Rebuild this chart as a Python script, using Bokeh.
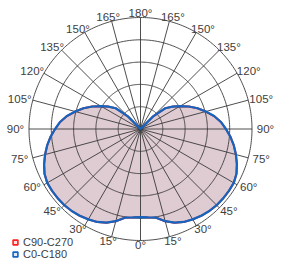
import numpy as np
from bokeh.plotting import figure
from bokeh.models import Range1d, Legend, LegendItem
from bokeh.embed import file_html
from bokeh.resources import INLINE
from bokeh.core.properties import value

# ---- data (intensity, outer ring = 500) ----
gamma = [0, 5, 10, 15, 20, 25, 30, 35, 40, 45, 50, 55, 60, 65, 70, 75, 80, 85, 90,
         95, 100, 105, 110, 115, 120, 125, 130, 135, 140, 145, 150, 155, 160, 165, 170, 175, 180]
c0_c180 = [395, 398, 404, 428, 447, 460, 468, 475, 480, 483, 484, 484, 483, 475, 460, 443, 425, 405, 383,
           362, 335, 303, 272, 239, 205, 175, 145, 80, 0, 0, 0, 0, 0, 0, 0, 0, 0]
c90_c270 = [395, 398, 404, 428, 447, 460, 468, 475, 480, 483, 484, 484, 483, 475, 460, 443, 425, 405, 383,
            362, 335, 303, 272, 239, 205, 175, 145, 80, 0, 0, 0, 0, 0, 0, 0, 0, 0]
ring_values = [100, 200, 300, 400, 500]
angle_ticks = [0, 15, 30, 45, 60, 75, 90, 105, 120, 135, 150, 165, 180]
series_names = ["C90-C270", "C0-C180"]

W, H = 283, 261
CX, CY = 140, 128.5        # centre in canvas px
RMAX_PX = 111.5
s = RMAX_PX / max(ring_values)   # px per unit

p = figure(width=W, height=H, output_backend="svg", toolbar_location=None,
           x_range=Range1d(-CX / s, (W - CX) / s), y_range=Range1d(-(H - CY) / s, CY / s),
           min_border=0)
p.axis.visible = False
p.grid.visible = False
p.outline_line_color = None
p.background_fill_color = "white"
p.border_fill_color = "white"


def curve(vals):
    g = np.radians(np.array(gamma, dtype=float))
    v = np.array(vals, dtype=float)
    xr = v * np.sin(g)
    yr = -v * np.cos(g)
    x = np.concatenate([xr, -xr[::-1]])
    y = np.concatenate([yr, yr[::-1]])
    return x, y

# filled C90-C270 (under)
x90, y90 = curve(c90_c270)
p.patch(x90, y90, fill_color="#dfcbd2", fill_alpha=1.0, line_color="#e02020", line_width=2)

# grid: rings
th = np.linspace(0, 2 * np.pi, 361)
for rv in ring_values:
    p.line(rv * np.cos(th), rv * np.sin(th), line_color="#3a3a3a", line_width=0.9)

# grid: radial spokes every 15 deg
rmax = max(ring_values)
for a in range(0, 360, 15):
    ar = np.radians(a)
    p.line([0, rmax * np.sin(ar)], [0, -rmax * np.cos(ar)], line_color="#3a3a3a", line_width=0.9)

# C0-C180 line on top
x0, y0 = curve(c0_c180)
p.line(x0, y0, line_color="#1565c0", line_width=2.2)

# angle labels
lx, ly, lt = [], [], []
lab_r = 116 / s
for a in angle_ticks:
    sides = [1] if a in (0, 180) else [1, -1]
    for sd in sides:
        ar = np.radians(a)
        sx = np.sin(ar) * sd
        lx.append(lab_r * sx + sx * 9 / s)
        ly.append(-lab_r * np.cos(ar))
        lt.append(f"{a}°")
p.text(x=lx, y=ly, text=lt, text_align="center", text_baseline="middle",
       text_font=value("Liberation Sans"), text_font_size="11.5px", text_color="#404040")

# legend proxies (kept outside the visible range)
far = 10 * rmax
r_red = p.scatter(x=[far], y=[far], marker="square", size=5, fill_color="#ffdede",
                  line_color="#ff2020", line_width=1.6)
r_blue = p.scatter(x=[far], y=[far], marker="square", size=5, fill_color="#dde8f6",
                   line_color="#1565c0", line_width=1.6)
legend = Legend(items=[LegendItem(label=series_names[0], renderers=[r_red]),
                       LegendItem(label=series_names[1], renderers=[r_blue])],
                location=(9, 1), orientation="vertical",
                glyph_width=12, glyph_height=12, label_height=12, spacing=0,
                label_standoff=2, padding=0, margin=0,
                border_line_color=None, background_fill_alpha=0,
                label_text_font="Liberation Sans", label_text_font_size="11px",
                label_text_color="#404040")
p.add_layout(legend)

open("out.html", "w").write(file_html(p, INLINE))
